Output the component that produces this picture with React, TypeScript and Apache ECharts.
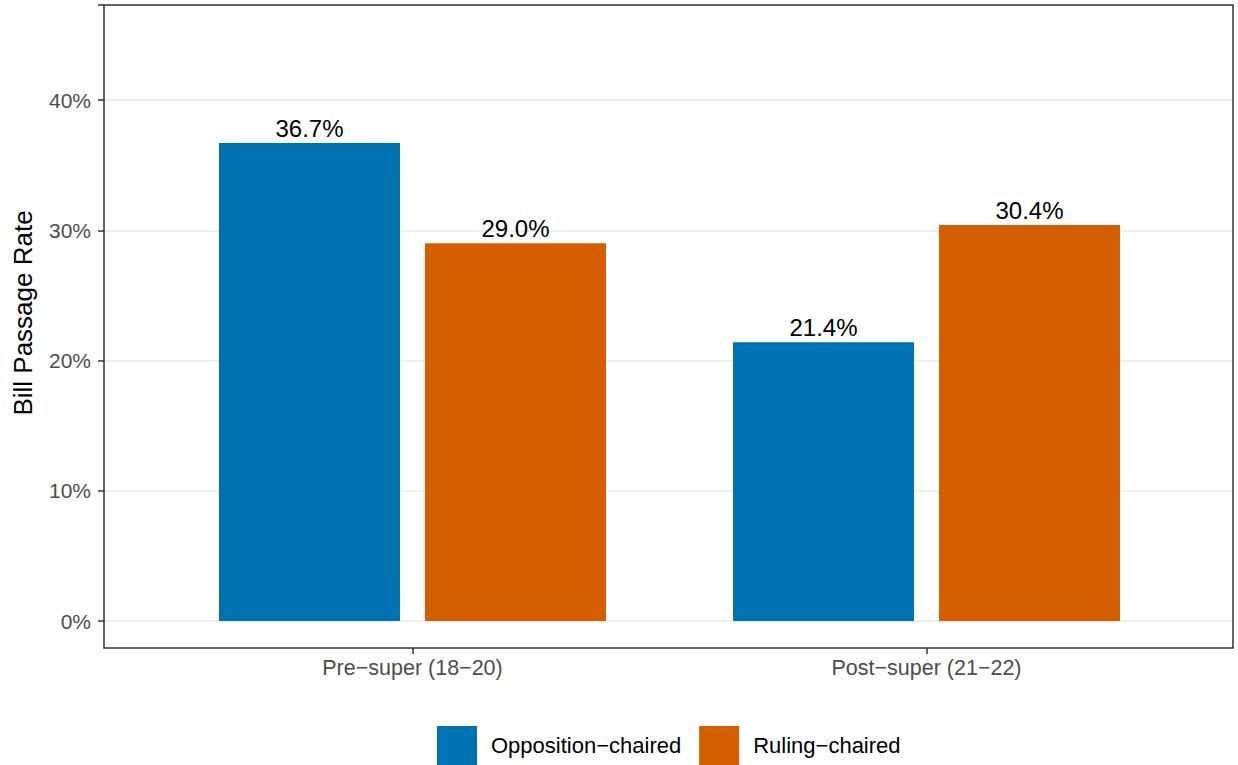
import React, { useEffect, useRef } from "react";
import * as echarts from "echarts";

const categories = ["Pre−super (18−20)", "Post−super (21−22)"];
const seriesNames = ["Opposition−chaired", "Ruling−chaired"];
const opposition = [36.7, 21.4];
const ruling = [29.0, 30.4];
const yTicks = [0, 10, 20, 30, 40];

const FONT = "Liberation Sans, Arial, Helvetica, sans-serif";

export default function App() {
  const ref = useRef<HTMLDivElement>(null);
  useEffect(() => {
    if (!ref.current) return;
    const chart = echarts.init(ref.current, undefined, { renderer: "svg" });
    const yMax = 47.3;
    const yMinPanel = -2.07;
    const label = {
      show: true,
      position: "top",
      distance: 3,
      fontSize: 24,
      color: "#000",
      fontFamily: FONT,
      formatter: (p: any) => Number(p.value).toFixed(1) + "%",
    };
    chart.setOption({
      animation: false,
      backgroundColor: "#fff",
      textStyle: { fontFamily: FONT },
      grid: [
        { left: 104, right: 5, top: 5, bottom: 144 },
        { left: 155.5, right: 54.5, top: 5, bottom: 117 },
      ],
      xAxis: [
        { type: "category", gridIndex: 0, data: categories, show: false },
        {
          type: "category",
          gridIndex: 1,
          data: categories,
          axisLine: { show: false, onZero: false },
          axisTick: { show: true, alignWithLabel: true, length: 6, lineStyle: { color: "#333", width: 1.5 } },
          axisLabel: { color: "#4D4D4D", fontSize: 21.5, margin: 9, fontFamily: FONT },
          splitLine: { show: false },
        },
      ],
      yAxis: [
        {
          type: "value",
          gridIndex: 0,
          min: 0,
          max: yMax,
          interval: 10,
          axisLine: { show: false },
          axisTick: { show: true, length: 6, lineStyle: { color: "#333", width: 1.5 } },
          axisLabel: {
            color: "#4D4D4D",
            fontSize: 21,
            margin: 13,
            fontFamily: FONT,
            formatter: (v: number) => (yTicks.includes(v) ? v + "%" : ""),
          },
          splitLine: { show: true, lineStyle: { color: "#EBEBEB", width: 1.5 } },
          name: "Bill Passage Rate",
          nameLocation: "middle",
          nameGap: 68,
          nameTextStyle: { fontSize: 26, color: "#000", fontFamily: FONT },
        },
        { type: "value", gridIndex: 1, min: yMinPanel, max: yMax, show: false, splitLine: { show: false } },
      ],
      legend: {
        left: 437,
        bottom: 0,
        padding: 0,
        itemWidth: 40,
        itemHeight: 39,
        itemGap: 18,
        icon: "rect",
        data: seriesNames,
        textStyle: { fontSize: 22, color: "#000", fontFamily: FONT, padding: [0, 0, 0, 9] },
      },
      series: [
        {
          name: seriesNames[0],
          type: "bar",
          xAxisIndex: 1,
          yAxisIndex: 1,
          data: opposition,
          barWidth: 181,
          barGap: "13.8%",
          itemStyle: { color: "#0072B2" },
          label,
        },
        {
          name: seriesNames[1],
          type: "bar",
          xAxisIndex: 1,
          yAxisIndex: 1,
          data: ruling,
          barWidth: 181,
          barGap: "13.8%",
          itemStyle: { color: "#D55E00" },
          label,
        },
      ],
      graphic: [
        {
          type: "rect",
          z: 100,
          silent: true,
          shape: { x: 104, y: 5, width: 1129, height: 643 },
          style: { fill: "none", stroke: "#333", lineWidth: 1.5 },
        },
      ],
    });
    return () => chart.dispose();
  }, []);
  return (
    <div
      ref={ref}
      style={{ position: "fixed", left: 0, top: 0, width: 1238, height: 765 }}
    />
  );
}
